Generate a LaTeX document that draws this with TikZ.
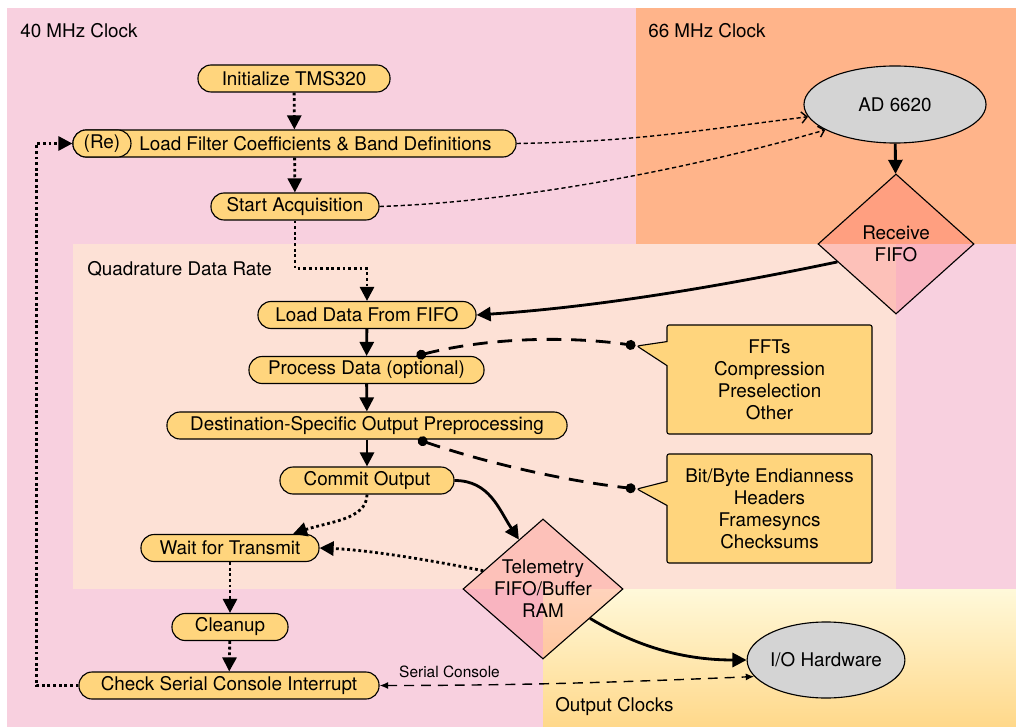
\documentclass[tikz,border=0pt]{standalone}
\usepackage{fontspec}
\setmainfont{TeX Gyre Heros}
\usepackage{tikz}
\usetikzlibrary{arrows.meta,shapes,calc}
\definecolor{clockpink}{RGB}{248,208,223}
\definecolor{clockorange}{RGB}{255,180,138}
\definecolor{quadpeach}{RGB}{253,225,214}
\definecolor{outtop}{RGB}{255,249,218}
\definecolor{outbottom}{RGB}{255,216,138}
\definecolor{stepyellow}{RGB}{255,213,125}
\definecolor{hwgrey}{RGB}{212,212,212}
\definecolor{bufred}{RGB}{255,100,100}

\begin{document}
\begin{tikzpicture}[x=0.025cm, y=-0.025cm,
    font=\fontsize{13.4}{15.6}\selectfont,
    flowbox/.style={draw, line width=0.8pt, fill=stepyellow, rounded corners=0.33cm,
        minimum height=0.675cm, inner sep=0pt},
    hwnode/.style={draw, line width=0.8pt, fill=hwgrey, ellipse, inner sep=0pt},
    bufnode/.style={draw, line width=0.8pt, diamond, fill=bufred, fill opacity=0.25,
        text opacity=1, inner sep=-3pt, align=center, minimum height=3.5cm},
    notebox/.style={draw, line width=0.8pt, fill=stepyellow, rectangle callout,
        rounded corners=1.5pt, align=center, minimum width=5.125cm,
        minimum height=2.725cm, callout pointer width=0.6cm},
    region/.style={anchor=west, inner sep=0pt},
    dotflow/.style={line width=2pt, dash pattern=on 2pt off 2pt,
        -{Triangle[length=10pt,width=10pt]}},
    solidflow/.style={line width=2pt, -{Triangle[length=10pt,width=10pt]}},
    ctlflow/.style={line width=1pt, dash pattern=on 3pt off 2pt,
        -{Straight Barb[length=4pt,width=8pt]}},
    noteline/.style={line width=2pt, dash pattern=on 10.5pt off 7pt,
        {Circle[length=7pt]}-{Circle[length=7pt]}},
    consoleline/.style={line width=1pt, dash pattern=on 7pt off 5pt,
        {Latex[length=6pt,width=5pt]}-{Latex[length=6pt,width=5pt]}}
]
\useasboundingbox (0,0) rectangle (1016,727);

% clock domains
\fill[clockpink] (7,8) rectangle (1016,727);
\fill[clockorange] (636,8) rectangle (1016,244);
\fill[quadpeach] (73,244) rectangle (896,589);
\shade[top color=outtop, bottom color=outbottom] (543,589) rectangle (1016,727);

\node[region] (mhz40) at (20,31) {40 MHz Clock};
\node[region] (mhz66) at (648,31) {66 MHz Clock};
\node[region] (quadrate) at (87,269) {Quadrature Data Rate};
\node[region] (outclk) at (555,707) {Output Clocks};

% processing steps
\node[flowbox, minimum width=4.8cm] (init) at (294,78.5) {Initialize TMS320};
\node[flowbox, minimum width=11.075cm] (lfc) at (294.5,143.5)
    {\hspace*{1.05cm}Load Filter Coefficients \& Band Definitions};
\node[flowbox, minimum width=1.45cm, anchor=west] (re) at (lfc.west) {(Re)};
\node[flowbox, minimum width=4.2cm] (start) at (295,206.5) {Start Acquisition};
\node[flowbox, minimum width=5.45cm] (loaddata) at (367,315) {Load Data From FIFO};
\node[flowbox, minimum width=5.875cm] (procdata) at (366.5,370) {Process Data (optional)};
\node[flowbox, minimum width=10cm] (destproc) at (367,425.5) {Destination-Specific Output Preprocessing};
\node[flowbox, minimum width=4.35cm] (commit) at (367,480.5) {Commit Output};
\node[flowbox, minimum width=4.45cm] (wait) at (230,548) {Wait for Transmit};
\node[flowbox, minimum width=2.9cm] (cleanup) at (230,627) {Cleanup};
\node[flowbox, minimum width=7.5cm] (chkser) at (229,685.5) {Check Serial Console Interrupt};

% hardware and buffers
\node[hwnode, minimum width=4.55cm, minimum height=1.925cm] (ad) at (895,104.5) {AD 6620};
\node[bufnode, minimum width=3.9cm] (rxfifo) at (896,244) {Receive\\FIFO};
\node[bufnode, minimum width=4cm] (telem) at (543,589) {Telemetry\\FIFO/Buffer\\RAM};
\node[hwnode, minimum width=3.55cm, minimum height=1.9cm] (iohw) at (826,660) {I/O Hardware};

% notes
\node[notebox, callout absolute pointer={(637,346)}] (procnote) at (769.5,379.5)
    {FFTs\\Compression\\Preselection\\Other};
\node[notebox, callout absolute pointer={(637,489)}] (outnote) at (769.5,508.5)
    {Bit/Byte Endianness\\Headers\\Framesyncs\\Checksums};
\node[font=\fontsize{11}{13}\selectfont, inner sep=0pt] (conslbl) at (449.5,672) {Serial Console};

% connections
\draw[dotflow] (init) -- (lfc);
\draw[dotflow] (lfc) -- (start);
\draw[dotflow] (start.south) -- ++(0,48) -| (loaddata.north);
\draw[ctlflow] (lfc.east) .. controls +(120,-2) and +(-120,15) .. (ad.188);
\draw[ctlflow] (start.east) .. controls +(150,-5) and +(-120,35) .. (ad.200);
\draw[solidflow] (ad) -- (rxfifo);
\draw[solidflow] (rxfifo.197) .. controls +(-120,25) and +(120,-8) .. (loaddata.east);
\draw[solidflow] (loaddata) -- (procdata);
\draw[solidflow] (procdata) -- (destproc);
\draw[solidflow] (destproc) -- (commit);
\draw[noteline] ($(procdata.north)+(50,0)$) .. controls +(70,-18) and +(-70,-10) .. (procnote.pointer);
\draw[noteline] ($(destproc.south)+(51,0)$) .. controls +(70,24) and +(-70,-8) .. (outnote.pointer);
\draw[solidflow] (commit.east) .. controls +(35,0) and +(-20,-30) .. (telem.116);
\draw[dotflow] (commit.south) .. controls +(0,25) and +(35,-12) .. ($(wait.north)+(63,0)$);
\draw[dotflow] (telem.163) .. controls +(-50,-10) and +(50,2) .. (wait.east);
\draw[dotflow] (wait) -- (cleanup);
\draw[dotflow] (cleanup) -- (chkser);
\draw[dotflow] (chkser.west) -- ++(-42,0) |- (re.west);
\draw[solidflow] (telem.-32) .. controls +(50,30) and +(-60,0) .. (iohw.west);
\draw[consoleline] (chkser.east) .. controls +(150,0) and +(-120,5) .. (iohw.193);
\end{tikzpicture}
\end{document}
